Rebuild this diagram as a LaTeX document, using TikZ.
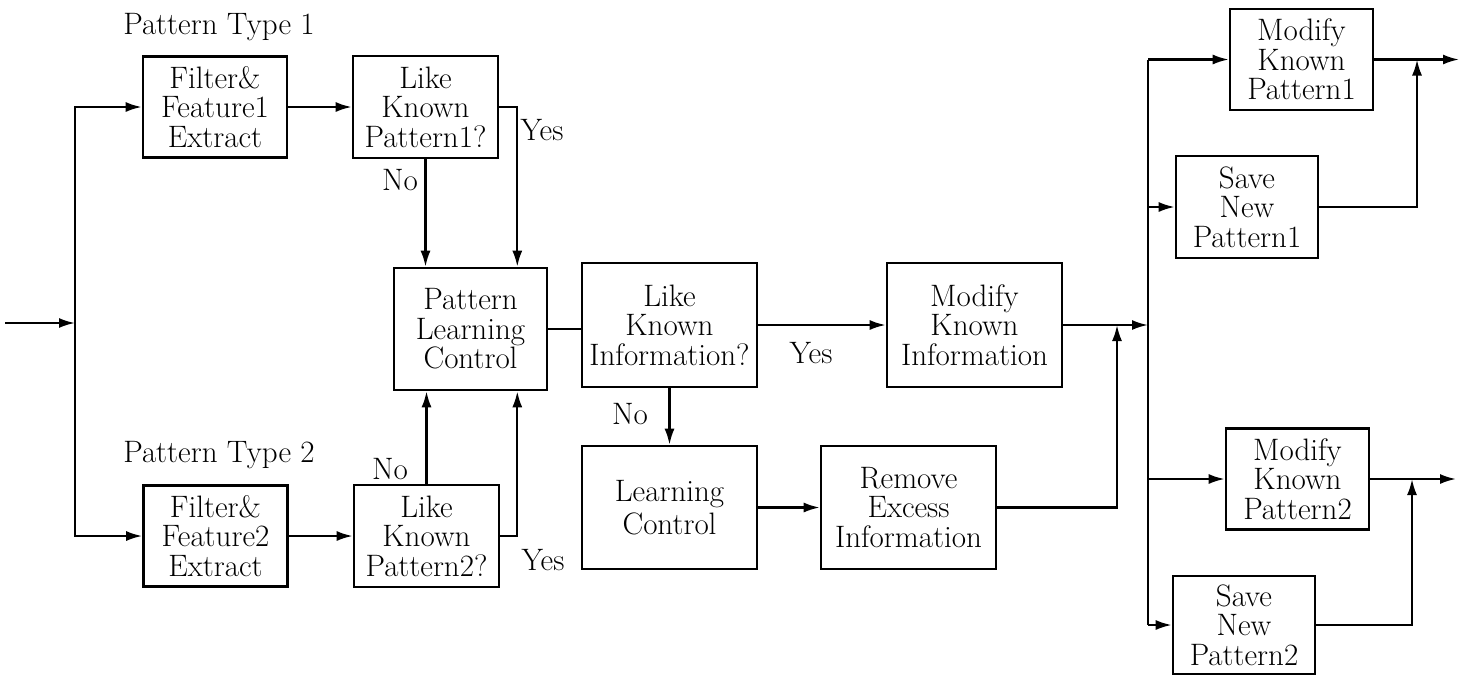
\documentclass[tikz,border=0pt]{standalone}
\usepackage{amsmath}
\usepackage{tikz}
\usetikzlibrary{arrows.meta}

\begin{document}
\begin{tikzpicture}[x=0.5pt,y=-0.5pt,
    blk/.style n args={2}{draw, line width=1.3pt, align=center, inner sep=0pt,
        minimum width=#1, minimum height=#2,
        font=\fontsize{15.5}{14.8}\selectfont},
    lbl/.style={inner sep=0pt, font=\fontsize{15.5}{14.8}\selectfont},
    arr/.style={line width=1.1pt, -{Latex[length=8pt,width=5pt]}},
    ln/.style={line width=1.1pt}]
    \useasboundingbox (0,0) rectangle (1470,675);
    % pattern blocks
    \node[lbl] (pt1) at (219,27) {Pattern Type 1};
    \node[lbl] (pt2) at (219,455) {Pattern Type 2};
    \node[blk={72pt}{50.5pt}] (fe1) at (215,107) {Filter\&\\Feature1\\Extract};
    \node[blk={72.5pt}{51pt}] (lkp1) at (425.5,107) {Like\\Known\\Pattern1?};
    \node[blk={72pt}{50.5pt}] (fe2) at (215.5,536) {Filter\&\\Feature2\\Extract};
    \node[blk={72.5pt}{51pt}] (lkp2) at (426.5,536) {Like\\Known\\Pattern2?};
    \node[blk={76.5pt}{61pt}] (plc) at (470.5,329) {Pattern\\Learning\\Control};
    % information blocks
    \node[blk={87.5pt}{62pt}] (lki) at (669.5,325) {Like\\Known\\Information?};
    \node[blk={87.5pt}{61.5pt}, font=\fontsize{15.5}{16.5}\selectfont] (lc) at (669.5,507.5) {Learning\\Control};
    \node[blk={87.5pt}{61.5pt}] (rei) at (908.5,507.5) {Remove\\Excess\\Information};
    \node[blk={87.5pt}{62pt}] (mki) at (974.5,325) {Modify\\Known\\Information};
    % output blocks
    \node[blk={71.5pt}{50.5pt}] (mkp1) at (1301.5,59.5) {Modify\\Known\\Pattern1};
    \node[blk={71pt}{51pt}] (snp1) at (1247,207) {Save\\New\\Pattern1};
    \node[blk={71.5pt}{50.5pt}] (mkp2) at (1297.5,479) {Modify\\Known\\Pattern2};
    \node[blk={71pt}{49pt}] (snp2) at (1244,625) {Save\\New\\Pattern2};
    % yes / no labels
    \node[lbl] (y1) at (542,130) {Yes};
    \node[lbl] (n1) at (400,180) {No};
    \node[lbl] (n2) at (390,469) {No};
    \node[lbl] (y2) at (543,560) {Yes};
    \node[lbl] (y3) at (811,353) {Yes};
    \node[lbl] (n3) at (630,414) {No};
    % points on the lines
    \coordinate (in) at (5,323);
    \coordinate (split) at (75,323);
    \coordinate (bus) at (1148,325);
    \coordinate (j1) at (1117,325);
    \coordinate (j2) at (1417,0);
    \coordinate (j3) at (1412,0);
    \coordinate (out1) at (1459,0);
    \coordinate (out2) at (1456,0);
    % input side
    \draw[arr] (in) -- (split);
    \draw[arr] (split) |- (fe1.west);
    \draw[arr] (split) |- (fe2.west);
    \draw[arr] (fe1) -- (lkp1);
    \draw[arr] (fe2) -- (lkp2);
    \draw[arr] (lkp1.south) -- (lkp1.south |- plc.north);
    \draw[arr] (lkp1.east) -| ([xshift=-15.5pt]plc.north east);
    \draw[arr] (lkp2.north) -- (lkp2.north |- plc.south);
    \draw[arr] (lkp2.east) -| ([xshift=-15.5pt]plc.south east);
    \draw[ln] (plc.east) -- (plc.east -| lki.west);
    % middle
    \draw[arr] (lki) -- (mki);
    \draw[arr] (lki) -- (lc);
    \draw[arr] (lc) -- (rei);
    \draw[arr] (mki.east) -- (bus);
    \draw[arr] (rei.east) -| (j1);
    % output side
    \draw[ln] (bus |- mkp1.west) -- (bus |- snp2.west);
    \foreach \b in {mkp1,snp1,mkp2,snp2}
        \draw[arr] (bus |- \b.west) -- (\b.west);
    \draw[arr] (mkp1.east) -- (mkp1.east -| out1);
    \draw[arr] (snp1.east) -| (j2 |- mkp1.east);
    \draw[arr] (mkp2.east) -- (mkp2.east -| out2);
    \draw[arr] (snp2.east) -| (j3 |- mkp2.east);
\end{tikzpicture}
\end{document}
